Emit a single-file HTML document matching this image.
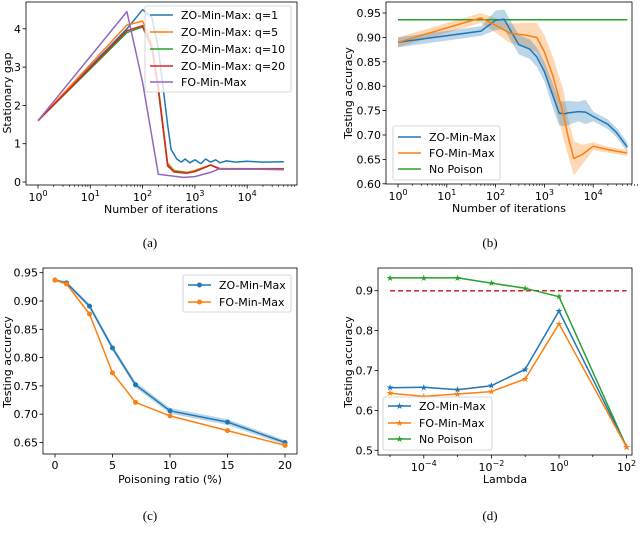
<!DOCTYPE html>
<html><head><meta charset="utf-8"><style>
html,body{margin:0;padding:0;background:#fff;}
svg{display:block;font-family:"DejaVu Sans","Liberation Sans",sans-serif;}
.cap{font-family:"Liberation Serif",serif;font-size:13px;}
</style></head><body>
<svg id="fig" width="640" height="543" viewBox="0 0 640 543"></svg>
<script>
// ---- Panel (a) data ----
const aQ1X=[1,50,100,150,200,300,350,450,550,650,800,1000,1300,1600,2000,2500,3000,4000,6000,10000,20000,50000];
const aQ1Y=[1.6,4.0,4.5,4.3,3.5,1.5,0.85,0.6,0.52,0.6,0.5,0.58,0.48,0.6,0.52,0.58,0.5,0.55,0.52,0.54,0.52,0.53];
const aQ5X=[1,50,100,150,200,300,400,700,1000,2000,3000,50000];
const aQ5Y=[1.6,4.1,4.2,3.6,2.5,0.5,0.3,0.25,0.3,0.45,0.35,0.35];
const aQ10X=[1,50,100,150,200,300,400,700,1000,2000,3000,50000];
const aQ10Y=[1.6,3.9,4.05,3.5,2.4,0.45,0.28,0.24,0.28,0.44,0.34,0.34];
const aQ20X=[1,50,100,150,200,300,400,700,1000,2000,3000,50000];
const aQ20Y=[1.6,3.95,4.08,3.5,2.45,0.42,0.26,0.23,0.27,0.44,0.34,0.34];
const aFOX=[1,50,100,200,600,1000,2000,3000,50000];
const aFOY=[1.6,4.45,2.6,0.2,0.12,0.14,0.25,0.35,0.32];
// ---- Panel (b) data ----
const bZOX=[1,50,100,150,200,300,500,700,1000,1500,2000,2500,3000,5000,7000,10000,20000,30000,50000];
const bZOY=[0.89,0.913,0.935,0.937,0.915,0.885,0.876,0.86,0.83,0.78,0.745,0.743,0.745,0.748,0.747,0.738,0.722,0.705,0.675];
const bZOE=[0.01,0.01,0.02,0.02,0.02,0.02,0.02,0.02,0.02,0.025,0.025,0.025,0.025,0.02,0.025,0.01,0.01,0.01,0.01];
const bFOX=[1,50,100,200,400,700,1000,1500,2500,3000,4000,6000,10000,20000,50000];
const bFOY=[0.89,0.94,0.925,0.908,0.905,0.9,0.87,0.82,0.74,0.7,0.652,0.66,0.677,0.67,0.663];
const bFOE=[0.01,0.01,0.015,0.02,0.025,0.03,0.035,0.04,0.05,0.04,0.035,0.02,0.008,0.006,0.006];
const bNoPoison=0.936;
// ---- Panel (c) data ----
const cX=[0,1,3,5,7,10,15,20];
const cZO=[0.937,0.932,0.891,0.817,0.752,0.706,0.686,0.650];
const cFO=[0.937,0.930,0.877,0.773,0.721,0.697,0.671,0.645];
const cZOE=[0.002,0.003,0.004,0.005,0.005,0.005,0.005,0.004];
// ---- Panel (d) data ----
const dX=[1e-5,1e-4,1e-3,1e-2,1e-1,1,100];
const dZO=[0.657,0.658,0.652,0.662,0.703,0.849,0.508];
const dFO=[0.643,0.635,0.641,0.647,0.679,0.817,0.508];
const dNP=[0.932,0.932,0.932,0.919,0.906,0.885,0.508];
const dThresh=0.9;

const NS="http://www.w3.org/2000/svg";
const svg=document.getElementById('fig');
const BLUE="#1f77b4",ORANGE="#ff7f0e",GREEN="#2ca02c",RED="#d62728",PURPLE="#9467bd";
function mk(tag,attrs,parent){const e=document.createElementNS(NS,tag);for(const k in attrs)e.setAttribute(k,attrs[k]);(parent||svg).appendChild(e);return e;}
function txt(s,x,y,opts,parent){const t=mk('text',Object.assign({x:x,y:y,'font-size':11,fill:'#000'},opts||{}),parent);t.textContent=s;return t;}
function powLabel(base,exp,x,y,parent){const t=mk('text',{x:x,y:y,'font-size':11,'text-anchor':'middle'},parent);
  const a=document.createElementNS(NS,'tspan');a.textContent=base;t.appendChild(a);
  const b=document.createElementNS(NS,'tspan');b.setAttribute('dy','-5');b.setAttribute('font-size','8');b.textContent=exp;t.appendChild(b);return t;}
function axes(x0,y0,x1,y1,name){const g=mk('g',{});
  mk('rect',{x:x0,y:y0,width:x1-x0,height:y1-y0,fill:'none',stroke:'#000','stroke-width':0.8},g);return g;}
function line(g,xs,ys,sx,sy,color,name,w){const p=mk('polyline',{points:xs.map((v,i)=>sx(v).toFixed(1)+','+sy(ys[i]).toFixed(1)).join(' '),fill:'none',stroke:color,'stroke-width':w||1.5,'stroke-linejoin':'round'},g);return p;}
function band(g,xs,ys,es,sx,sy,color,name,op){const up=xs.map((v,i)=>sx(v).toFixed(1)+','+sy(ys[i]+es[i]).toFixed(1));const dn=xs.map((v,i)=>sx(v).toFixed(1)+','+sy(ys[i]-es[i]).toFixed(1)).reverse();
  const p=mk('polygon',{points:up.concat(dn).join(' '),fill:color,opacity:op||0.3},g);}
function markers(g,xs,ys,sx,sy,color,name,r){xs.forEach((v,i)=>{const c=mk('circle',{cx:sx(v),cy:sy(ys[i]),r:r||2.5,fill:color},g);});}
function stars(g,xs,ys,sx,sy,color,name){xs.forEach((v,i)=>{const t=mk('text',{x:sx(v),y:sy(ys[i])+3,'font-size':9,'text-anchor':'middle',fill:color},g);t.textContent='★';});}
function yTick(g,x0,y,label){mk('line',{x1:x0-3.5,y1:y,x2:x0,y2:y,stroke:'#000','stroke-width':0.8},g);txt(label,x0-5,y+4,{'text-anchor':'end'},g);}
function xTick(g,x,y1,len){mk('line',{x1:x,y1:y1,x2:x,y2:y1+(len||3.5),stroke:'#000','stroke-width':0.8},g);}
function minorLog(g,sx,y1,dmin,dmax,xmin,xmax){for(let d=dmin;d<=dmax;d++)for(let k=2;k<10;k++){const v=k*Math.pow(10,d);if(v<xmin||v>xmax)continue;mk('line',{x1:sx(v),y1:y1,x2:sx(v),y2:y1+2,stroke:'#000','stroke-width':0.6},g);}}
function ylabel(s,x,y,name){const t=txt(s,x,y,{'text-anchor':'middle',transform:'rotate(-90 '+x+' '+y+')'});}
function legend(g,x0,y0,w,h,items,name,markerFn){const lg=mk('g',{},g);
  mk('rect',{x:x0,y:y0,width:w,height:h,rx:2,fill:'#fff','fill-opacity':0.8,stroke:'#ccc','stroke-width':0.8},lg);
  items.forEach((it,i)=>{const y=it[2];mk('line',{x1:x0+5,y1:y,x2:x0+28,y2:y,stroke:it[1],'stroke-width':1.5},lg);
   if(markerFn)markerFn(lg,x0+16.5,y,it[1]);txt(it[0],x0+36,y+4,{},lg);});}

// ===== Panel (a) =====
(function(){const x0=26,x1=297,y0=2,y1=185;const g=axes(x0,y0,x1,y1,'panel-a-axes');
 const sx=v=>38+52.3*Math.log10(v), sy=v=>182-38.3*v;
 [0,1,2,3,4].forEach(v=>yTick(g,x0,sy(v),String(v)));
 [0,1,2,3,4].forEach(d=>{xTick(g,sx(Math.pow(10,d)),y1);powLabel('10',String(d),sx(Math.pow(10,d)),y1+16,g);});
 minorLog(g,sx,y1,0,4,1,8e4);
 line(g,aQ1X,aQ1Y,sx,sy,BLUE,'line-zo-q1');line(g,aQ5X,aQ5Y,sx,sy,ORANGE,'line-zo-q5');
 line(g,aQ10X,aQ10Y,sx,sy,GREEN,'line-zo-q10');line(g,aQ20X,aQ20Y,sx,sy,RED,'line-zo-q20');
 line(g,aFOX,aFOY,sx,sy,PURPLE,'line-fo');
 legend(g,145,6,146,86,[['ZO-Min-Max: q=1',BLUE,15],['ZO-Min-Max: q=5',ORANGE,32],['ZO-Min-Max: q=10',GREEN,49],['ZO-Min-Max: q=20',RED,66],['FO-Min-Max',PURPLE,82]],'legend-a');
 txt('Number of iterations',161,213,{'text-anchor':'middle'},g);
 ylabel('Stationary gap',11,93,'y-axis-title-a');
 const c=txt('(a)',150,247,{'text-anchor':'middle',class:'cap'});})();

// ===== Panel (b) =====
(function(){const x0=386,x1=632,y0=2,y1=184;const g=axes(x0,y0,x1,y1,'panel-b-axes');
 const sx=v=>398+48.8*Math.log10(v), sy=v=>13+(0.95-v)/0.05*24.4;
 [0.6,0.65,0.7,0.75,0.8,0.85,0.9,0.95].forEach(v=>yTick(g,x0,sy(v),v.toFixed(2)));
 [0,1,2,3,4].forEach(d=>{xTick(g,sx(Math.pow(10,d)),y1);powLabel('10',String(d),sx(Math.pow(10,d)),y1+16,g);});
 minorLog(g,sx,y1,0,4,1,8e4);
 band(g,bFOX,bFOY,bFOE,sx,sy,ORANGE,'band-fo');band(g,bZOX,bZOY,bZOE,sx,sy,BLUE,'band-zo');
 line(g,[1,50000],[bNoPoison,bNoPoison],sx,sy,GREEN,'line-no-poison');
 line(g,bZOX,bZOY,sx,sy,BLUE,'line-zo');line(g,bFOX,bFOY,sx,sy,ORANGE,'line-fo');
 legend(g,393,126,107,54,[['ZO-Min-Max',BLUE,137],['FO-Min-Max',ORANGE,153],['No Poison',GREEN,169]],'legend-b');
 txt('Number of iterations',509,212,{'text-anchor':'middle'},g);
 ylabel('Testing accuracy',352,93,'y-axis-title-b');
 const c=txt('(b)',490,247,{'text-anchor':'middle',class:'cap'});})();

// ===== Panel (c) =====
(function(){const x0=43,x1=297,y0=268,y1=454;const g=axes(x0,y0,x1,y1,'panel-c-axes');
 const sx=v=>55+11.5*v, sy=v=>272.7+(0.95-v)/0.05*28.3;
 [0.65,0.7,0.75,0.8,0.85,0.9,0.95].forEach(v=>yTick(g,x0,sy(v),v.toFixed(2)));
 [0,5,10,15,20].forEach(v=>{xTick(g,sx(v),y1);txt(String(v),sx(v),y1+15,{'text-anchor':'middle'},g);});
 band(g,cX,cZO,cZOE,sx,sy,BLUE,'band-zo');
 line(g,cX,cZO,sx,sy,BLUE,'line-zo');markers(g,cX,cZO,sx,sy,BLUE,'marker-zo');
 line(g,cX,cFO,sx,sy,ORANGE,'line-fo');markers(g,cX,cFO,sx,sy,ORANGE,'marker-fo');
 legend(g,183,275,108,37,[['ZO-Min-Max',BLUE,285],['FO-Min-Max',ORANGE,302]],'legend-c',(lg,x,y,c)=>mk('circle',{cx:x,cy:y,r:2.5,fill:c},lg));
 txt('Poisoning ratio (%)',170,483,{'text-anchor':'middle'},g);
 ylabel('Testing accuracy',11,362,'y-axis-title-c');
 const c=txt('(c)',150,520,{'text-anchor':'middle',class:'cap'});})();

// ===== Panel (d) =====
(function(){const x0=378,x1=632,y0=268,y1=455;const g=axes(x0,y0,x1,y1,'panel-d-axes');
 const sx=v=>559+33.8*Math.log10(v), sy=v=>290.7+(0.9-v)/0.1*39.9;
 [0.5,0.6,0.7,0.8,0.9].forEach(v=>yTick(g,x0,sy(v),v.toFixed(1)));
 [-4,-2,0,2].forEach(d=>{xTick(g,sx(Math.pow(10,d)),y1);powLabel('10',d<0?'\u2212'+(-d):String(d),sx(Math.pow(10,d)),y1+16,g);});
 [-5,-3,-1,1].forEach(d=>xTick(g,sx(Math.pow(10,d)),y1,2));
 const th=line(g,[dX[0],dX[dX.length-1]],[dThresh,dThresh],sx,sy,RED,'threshold-line');th.setAttribute('stroke-dasharray','5,3');
 line(g,dNP,dNP.map(()=>0),()=>0,()=>0,'none','unused').remove();
 line(g,dX,dNP,sx,sy,GREEN,'line-no-poison');stars(g,dX,dNP,sx,sy,GREEN,'marker-no-poison');
 line(g,dX,dZO,sx,sy,BLUE,'line-zo');stars(g,dX,dZO,sx,sy,BLUE,'marker-zo');
 line(g,dX,dFO,sx,sy,ORANGE,'line-fo');stars(g,dX,dFO,sx,sy,ORANGE,'marker-fo');
 legend(g,383,397,109,53,[['ZO-Min-Max',BLUE,406],['FO-Min-Max',ORANGE,423],['No Poison',GREEN,439]],'legend-d',(lg,x,y,c)=>{const t=mk('text',{x:x,y:y+3,'font-size':9,'text-anchor':'middle',fill:c},lg);t.textContent='★';});
 txt('Lambda',505,483,{'text-anchor':'middle'},g);
 ylabel('Testing accuracy',352,362,'y-axis-title-d');
 const c=txt('(d)',490,520,{'text-anchor':'middle',class:'cap'});})();
</script>
</body></html>
